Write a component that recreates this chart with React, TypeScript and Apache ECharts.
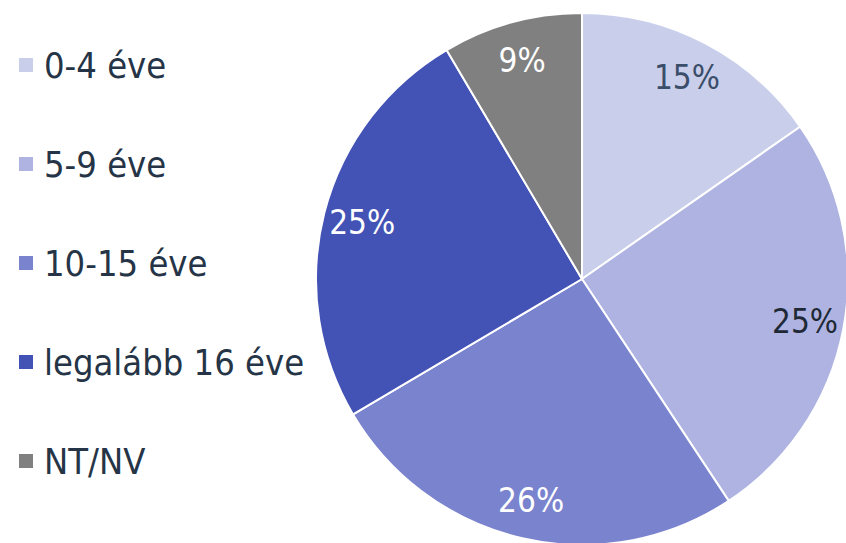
import React, { useEffect, useRef } from "react";
import * as echarts from "echarts";

const categories = ["0-4 éve", "5-9 éve", "10-15 éve", "legalább 16 éve", "NT/NV"];
const values = [15.3, 25.4, 25.8, 25.0, 8.5];
const colors = ["#C9CEEB", "#AEB3E2", "#7A83CE", "#4252B5", "#808080"];
const labelColors = ["#3A4D69", "#1E2935", "#FFFFFF", "#FFFFFF", "#FFFFFF"];

const FONT = "'DejaVu Sans Condensed', 'Liberation Sans', sans-serif";

export default function App() {
  const ref = useRef<HTMLDivElement>(null);
  useEffect(() => {
    document.body.style.margin = "0";
    const chart = echarts.init(ref.current!, null, { renderer: "svg" });
    chart.setOption({
      animation: false,
      backgroundColor: "#FFFFFF",
      legend: {
        orient: "vertical",
        left: 12,
        top: 40,
        icon: "rect",
        itemWidth: 16,
        itemHeight: 16,
        itemGap: 59,
        selectedMode: false,
        textStyle: {
          fontFamily: FONT,
          fontSize: 36,
          color: "#253446",
          lineHeight: 40,
          padding: [0, 0, 0, 5],
        },
        data: categories.map((name, i) => ({ name, itemStyle: { color: colors[i] } })),
      },
      series: [
        {
          type: "pie",
          center: [582, 279],
          radius: 266,
          startAngle: 90,
          clockwise: true,
          silent: true,
          label: { show: false },
          labelLine: { show: false },
          itemStyle: { borderColor: "#FFFFFF", borderWidth: 2 },
          data: categories.map((name, i) => ({
            name,
            value: values[i],
            itemStyle: { color: colors[i] },
          })),
        },
        {
          type: "pie",
          center: [582, 279],
          radius: [186, 262],
          startAngle: 90,
          clockwise: true,
          silent: true,
          labelLine: { show: false },
          itemStyle: { color: "rgba(0,0,0,0)", borderWidth: 0 },
          label: {
            show: true,
            position: "inside",
            fontFamily: FONT,
            fontSize: 33,
            formatter: (p: any) => Math.round(p.value) + "%",
          },
          data: categories.map((name, i) => ({
            name,
            value: values[i],
            label: { color: labelColors[i] },
          })),
        },
      ],
    });
    return () => chart.dispose();
  }, []);
  return <div ref={ref} style={{ width: 846, height: 543 }} />;
}
